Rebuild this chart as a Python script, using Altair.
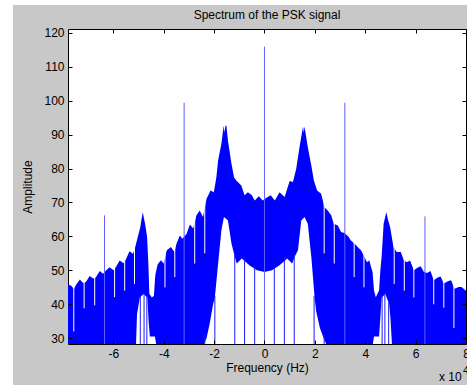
import altair as alt
import pandas as pd

# ---- data (frequency in units of 1e4 Hz) ----
# upper envelope of the dense spectrum trace
up_x = [-7.80, -7.66, -7.57, -7.49, -7.33, -7.20, -7.09, -6.94, -6.80, -6.70,
        -6.54, -6.41, -6.28, -6.15, -5.99, -5.88, -5.75, -5.59, -5.49, -5.36,
        -5.22, -5.13, -5.03, -4.93, -4.86, -4.83, -4.79, -4.74, -4.66, -4.61,
        -4.57, -4.47, -4.39, -4.35, -4.33, -4.24, -4.11, -4.00, -3.88, -3.71,
        -3.58, -3.49, -3.36, -3.26, -3.09, -2.96, -2.83, -2.70, -2.57, -2.44,
        -2.30, -2.14, -2.01, -1.91, -1.84, -1.71, -1.62, -1.58, -1.55, -1.51,
        -1.45, -1.31, -1.21, -1.12, -0.92, -0.79, -0.66, -0.50, -0.39, -0.22,
        -0.07, 0.08, 0.25, 0.41, 0.60, 0.80, 1.00, 1.13, 1.26, 1.39,
        1.53, 1.56, 1.59, 1.72, 1.86, 1.96, 2.09, 2.25, 2.38, 2.51,
        2.65, 2.75, 2.91, 3.04, 3.17, 3.33, 3.43, 3.56, 3.70, 3.83,
        3.94, 4.07, 4.16, 4.29, 4.35, 4.42, 4.55, 4.60, 4.65, 4.73,
        4.80, 4.84, 4.90, 4.99, 5.12, 5.25, 5.41, 5.54, 5.65, 5.78,
        5.93, 6.07, 6.20, 6.33, 6.46, 6.59, 6.72, 6.88, 6.99, 7.12,
        7.28, 7.41, 7.54, 7.71, 7.82, 8.00]
up_y = [45.9, 45.4, 44.5, 45.6, 47.3, 46.3, 46.6, 48.3, 47.6, 47.9,
        49.8, 49.0, 50.0, 50.9, 50.0, 51.2, 52.9, 52.1, 53.4, 55.6,
        54.9, 56.9, 59.8, 62.7, 66.0, 67.1, 65.5, 63.7, 59.8, 52.0,
        43.0, 42.0, 42.5, 47.0, 48.8, 51.8, 53.0, 52.0, 55.9, 56.9,
        55.4, 57.9, 60.3, 59.3, 60.8, 63.5, 62.3, 66.2, 67.6, 65.7,
        71.1, 73.5, 73.0, 77.4, 82.4, 87.3, 92.6, 90.5, 92.6, 92.6,
        88.2, 81.4, 77.4, 76.5, 75.0, 72.1, 73.0, 72.1, 70.6, 71.8,
        70.6, 71.4, 72.1, 70.6, 73.0, 71.6, 76.3, 76.0, 79.9, 86.3,
        92.4, 90.5, 92.4, 86.3, 80.9, 76.5, 73.5, 72.6, 68.6, 67.6,
        66.2, 63.7, 63.2, 61.3, 61.0, 60.0, 58.8, 58.0, 56.9, 55.9,
        54.4, 52.4, 52.9, 49.5, 44.0, 42.1, 44.1, 50.0, 53.9, 63.7,
        66.0, 67.1, 65.0, 62.7, 56.9, 55.4, 55.4, 52.9, 52.4, 52.9,
        50.0, 50.8, 51.2, 49.5, 49.2, 49.8, 47.1, 47.9, 48.2, 46.1,
        46.8, 47.1, 44.6, 45.1, 45.1, 44.0]

# empty (white) regions under the trace: lower envelope of the dense part
hole_seg = ["a"] * 9 + ["b"] * 31 + ["c"] * 9
hole_x = [-5.10, -5.06, -4.95, -4.80, -4.65, -4.60, -4.55, -4.35, -4.30,
          -2.40, -2.30, -2.17, -2.04, -1.97, -1.84, -1.71, -1.61, -1.45, -1.31,
          -1.18, -1.10, -0.90, -0.60, -0.30, 0.00, 0.30, 0.60, 0.90, 1.10,
          1.20, 1.33, 1.46, 1.59, 1.72, 1.86, 1.99, 2.05, 2.20, 2.35, 2.45,
          4.30, 4.35, 4.55, 4.60, 4.65, 4.80, 4.95, 5.00, 5.06]
hole_y = [28.3, 37.0, 42.0, 43.0, 42.0, 35.0, 30.5, 30.5, 28.3,
          28.3, 30.0, 34.5, 40.0, 42.0, 52.0, 61.8, 65.7, 64.7, 57.9,
          54.0, 52.0, 53.5, 51.5, 50.0, 49.5, 50.0, 51.5, 53.5, 52.0,
          54.0, 55.9, 64.7, 65.7, 63.7, 53.9, 42.0, 38.0, 33.0, 30.0, 28.3,
          28.3, 30.5, 30.5, 36.0, 42.0, 43.0, 40.0, 36.0, 28.3]

# null lines reaching the floor inside the empty regions
null_x = [-4.93, -4.78, -4.67, -2.37, -1.97, -1.18, -0.79, -0.39,
          0.39, 0.79, 1.18, 1.97, 2.37, 4.67, 4.78, 4.93]
null_top = [42.5, 43.5, 42.5, 31.0, 42.5, 54.5, 54.0, 51.0,
            51.0, 54.0, 54.5, 42.5, 31.0, 42.5, 43.5, 40.5]

# white gaps between side lobes (depth of the gap)
slit_x = [-7.57, -7.16, -6.74, -5.95, -5.55, -5.16, -3.95, -3.56, -2.77, -2.37,
          2.37, 2.77, 3.56, 3.95, 5.15, 5.55, 5.93, 6.72, 7.12, 7.52]
slit_depth = [32.0, 38.8, 39.7, 42.1, 44.0, 46.0, 45.0, 48.0, 52.0, 55.0,
              55.0, 52.0, 48.0, 45.0, 46.0, 44.0, 42.0, 40.0, 39.0, 33.0]

# discrete spectral lines
spike_x = [-6.35, -3.19, 0.0, 3.19, 6.37]
spike_top = [66.2, 99.4, 115.9, 99.4, 65.9]

x_ticks = [-6, -4, -2, 0, 2, 4, 6, 8]
y_ticks = [30, 40, 50, 60, 70, 80, 90, 100, 110, 120]
X_DOMAIN = [-7.8, 8.0]
Y_DOMAIN = [28.3, 121.1]
FLOOR = Y_DOMAIN[0]

title_text = ["Spectrum of the PSK signal"]
exp_base = ["x 10"]
exp_power = ["4"]

# ---- tables ----
df_up = pd.DataFrame({"f": up_x, "a": up_y})
df_hole = pd.DataFrame({"f": hole_x, "a": hole_y, "seg": hole_seg})
df_null = pd.DataFrame({"f": null_x, "a": null_top})
df_slit = pd.DataFrame({"f": slit_x, "a": slit_depth})
df_spike = pd.DataFrame({"f": spike_x, "a": spike_top})
df_title = pd.DataFrame({"t": title_text})
df_base = pd.DataFrame({"t": exp_base})
df_pow = pd.DataFrame({"t": exp_power})

FONT = "Liberation Sans"
TXT = "#000000"
W, H = 398, 315

xs = alt.Scale(domain=X_DOMAIN, nice=False, zero=False)
ys = alt.Scale(domain=Y_DOMAIN, nice=False, zero=False)

common_axis = dict(offset=-4, tickSize=4, domain=False, grid=False, zindex=1,
                   tickColor="#000000", tickWidth=1)

ax_bottom = alt.Axis(orient="bottom", values=x_ticks, title="Frequency (Hz)",
                     labelExpr="toString(datum.value)", labelFlush=False,
                     labelPadding=4, titlePadding=3, labelFontSize=12,
                     titleFontSize=12, titleFontWeight="normal", labelColor=TXT,
                     titleColor=TXT, labelFont=FONT, titleFont=FONT, **common_axis)
ax_left = alt.Axis(orient="left", values=y_ticks, title="Amplitude",
                   labelPadding=4, titlePadding=9, labelFontSize=12,
                   titleFontSize=12, titleFontWeight="normal", labelColor=TXT,
                   titleColor=TXT, labelFont=FONT, titleFont=FONT, **common_axis)
ax_top = alt.Axis(orient="top", values=x_ticks, title="", labels=False, **common_axis)
ax_right = alt.Axis(orient="right", values=y_ticks, title="", labels=False, **common_axis)

# white margin of the screenshot (left and top edges)
strip_left = alt.Chart(df_base).mark_rect(color="white").encode(
    x=alt.value(-68), x2=alt.value(-55), y=alt.value(-29), y2=alt.value(H + 41))
strip_top = alt.Chart(df_base).mark_rect(color="white").encode(
    x=alt.value(-68), x2=alt.value(W + 1), y=alt.value(-29), y2=alt.value(-24))

area = alt.Chart(df_up).mark_area(color="#0000ff", clip=True).encode(
    x=alt.X("f:Q", scale=xs, axis=ax_bottom),
    y=alt.Y("a:Q", scale=ys, axis=ax_left))

slits = alt.Chart(df_slit).mark_rule(color="white", strokeWidth=1, clip=True).encode(
    x=alt.X("f:Q", scale=xs, axis=None),
    y=alt.Y("a:Q", scale=ys, axis=None),
    y2=alt.value(2))

holes = alt.Chart(df_hole).mark_area(color="white", clip=True).encode(
    x=alt.X("f:Q", scale=xs, axis=None),
    y=alt.Y("a:Q", scale=ys, axis=None),
    detail="seg:N")

nulls = alt.Chart(df_null).mark_rule(color="#1a1aff", strokeWidth=1, clip=True).encode(
    x=alt.X("f:Q", scale=xs, axis=None),
    y=alt.Y("a:Q", scale=ys, axis=None),
    y2=alt.datum(FLOOR))

spikes = alt.Chart(df_spike).mark_rule(color="#6060ff", strokeWidth=1, clip=True).encode(
    x=alt.X("f:Q", scale=xs, axis=ax_top),
    y=alt.Y("a:Q", scale=ys, axis=ax_right),
    y2=alt.datum(FLOOR))

txt_title = alt.Chart(df_title).mark_text(
    font=FONT, fontSize=12, color=TXT, align="center", baseline="alphabetic").encode(
    x=alt.value(W / 2), y=alt.value(-10), text="t:N")
txt_base = alt.Chart(df_base).mark_text(
    font=FONT, fontSize=12, color=TXT, align="left", baseline="alphabetic").encode(
    x=alt.value(371), y=alt.value(352), text="t:N")
txt_pow = alt.Chart(df_pow).mark_text(
    font=FONT, fontSize=11, color=TXT, align="left", baseline="alphabetic").encode(
    x=alt.value(395), y=alt.value(345), text="t:N")

chart = alt.layer(
    strip_left, strip_top, area, slits, holes, nulls, spikes,
    txt_title, txt_base, txt_pow
).properties(
    width=W, height=H,
    autosize=alt.AutoSizeParams(type="none"),
    padding={"left": 68, "top": 29, "right": 1, "bottom": 41},
    background="#c8c8c8",
).configure(
    font=FONT
).configure_view(
    fill="white", stroke="#000000", strokeWidth=1
)

chart.save("out.html", embed_options={"renderer": "svg", "actions": False})
